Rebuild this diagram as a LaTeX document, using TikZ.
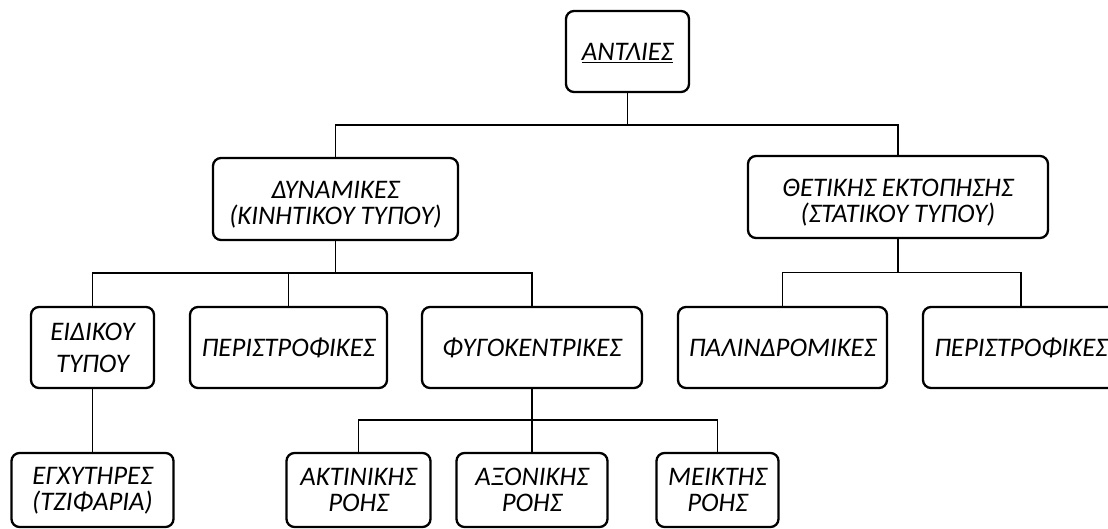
\documentclass[tikz,border=0pt]{standalone}
\usepackage{fontspec}
\setmainfont{Carlito}
\begin{document}
\begin{tikzpicture}[x=1pt,y=-1pt,
  box/.style={draw, rounded corners=8pt, line width=2.3pt, inner sep=0pt},
  lbl/.style={font=\itshape\fontsize{26.8}{26}\selectfont, align=center, inner sep=0pt, anchor=base},
  lblw/.style={font=\itshape\fontsize{26.8}{32}\selectfont, align=center, inner sep=0pt, anchor=base},
  conn/.style={line width=1.9pt, line join=miter}]
\path[use as bounding box] (0,0) rectangle (1108,529);
\clip (0,0) rectangle (1108,529);
% boxes
\node[box, minimum width=123pt, minimum height=81pt] (root) at (627.5,51.5) {};
\node[box, minimum width=245pt, minimum height=82pt] (dyn) at (335.5,199) {};
\node[box, minimum width=300pt, minimum height=82pt] (thet) at (898,197) {};
\node[box, minimum width=123pt, minimum height=81pt] (eid) at (92.5,347.5) {};
\node[box, minimum width=197pt, minimum height=81pt] (per1) at (288.5,347.5) {};
\node[box, minimum width=220pt, minimum height=81pt] (fyg) at (532,347.5) {};
\node[box, minimum width=209pt, minimum height=81pt] (pal) at (782.5,347.5) {};
\node[box, minimum width=196pt, minimum height=81pt] (per2) at (1021,347.5) {};
\node[box, minimum width=162pt, minimum height=74pt] (egx) at (92.5,490) {};
\node[box, minimum width=144pt, minimum height=74pt] (akt) at (358.5,490) {};
\node[box, minimum width=151pt, minimum height=74pt] (axo) at (532,490) {};
\node[box, minimum width=122pt, minimum height=74pt] (mei) at (717.5,490) {};
% labels (base = baseline of last line)
\node[lbl] (troot) at (627.5,60.5) {\underline{ΑΝΤΛΙΕΣ}};
\node[lbl] (tdyn) at (335.5,224.5) {ΔΥΝΑΜΙΚΕΣ\\(ΚΙΝΗΤΙΚΟΥ ΤΥΠΟΥ)};
\node[lbl] (tthet) at (898,222.5) {ΘΕΤΙΚΗΣ ΕΚΤΟΠΗΣΗΣ\\(ΣΤΑΤΙΚΟΥ ΤΥΠΟΥ)};
\node[lblw] (teid) at (92.5,372.5) {ΕΙΔΙΚΟΥ\\ΤΥΠΟΥ};
\node[lbl] (tper1) at (288.5,356) {ΠΕΡΙΣΤΡΟΦΙΚΕΣ};
\node[lbl] (tfyg) at (532,356) {ΦΥΓΟΚΕΝΤΡΙΚΕΣ};
\node[lbl] (tpal) at (782.5,356) {ΠΑΛΙΝΔΡΟΜΙΚΕΣ};
\node[lbl] (tper2) at (1021,356) {ΠΕΡΙΣΤΡΟΦΙΚΕΣ};
\node[lbl] (tegx) at (92.5,510) {ΕΓΧΥΤΗΡΕΣ\\(ΤΖΙΦΑΡΙΑ)};
\node[lbl] (takt) at (358.5,511) {ΑΚΤΙΝΙΚΗΣ\\ΡΟΗΣ};
\node[lbl] (taxo) at (532,511) {ΑΞΟΝΙΚΗΣ\\ΡΟΗΣ};
\node[lbl] (tmei) at (717.5,511) {ΜΕΙΚΤΗΣ\\ΡΟΗΣ};
% junctions
\coordinate (j0) at (627.5,125);
\coordinate (j1) at (335.5,273);
\coordinate (j2) at (898,272.5);
\coordinate (j3) at (532,420);
% connectors
\draw[conn] (root.south) -- (j0);
\draw[conn] (j0) -| (dyn.north);
\draw[conn] (j0) -| (thet.north);
\draw[conn] (dyn.south) -- (j1);
\draw[conn] (j1) -| (eid.north);
\draw[conn] (j1) -| (per1.north);
\draw[conn] (j1) -| (fyg.north);
\draw[conn] (thet.south) -- (j2);
\draw[conn] (j2) -| (pal.north);
\draw[conn] (j2) -| (per2.north);
\draw[conn] (eid.south) -- (egx.north);
\draw[conn] (fyg.south) -- (j3);
\draw[conn] (j3) -| (akt.north);
\draw[conn] (j3) -| (axo.north);
\draw[conn] (j3) -| (mei.north);
\end{tikzpicture}
\end{document}
